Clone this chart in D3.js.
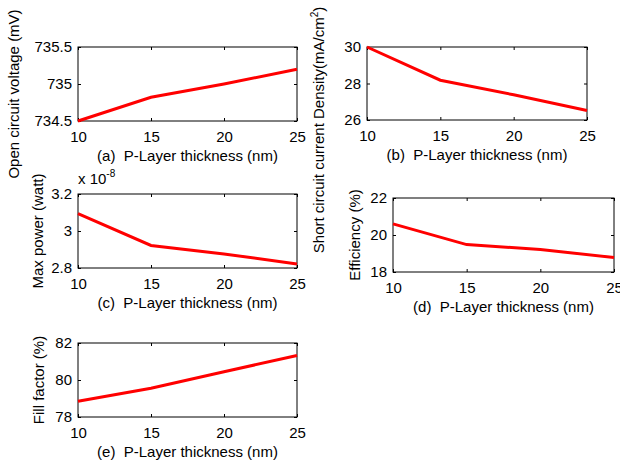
<!DOCTYPE html>
<html>
<head>
<meta charset="utf-8">
<script src="https://cdn.jsdelivr.net/npm/d3@7"></script>
<style>
  html, body { margin: 0; padding: 0; background: #fff; }
  text { font-family: "Liberation Sans", Arial, sans-serif; }
</style>
</head>
<body>
<div id="svg"></div>
<script>
// ------------------------------------------------------
// Size of the page
const width = 620
const height = 466

// ------------------------------------------------------
// Data (x = P-layer thickness in nm)
const thickness = [10, 15, 20, 25]

const openVoltage = [734.5, 734.82, 735.0, 735.2]        // mV
const shortCurrent = [30.0, 28.18, 27.38, 26.52]         // mA/cm2
const maxPower = [3.094e-8, 2.922e-8, 2.876e-8, 2.822e-8] // watt
const efficiency = [20.6, 19.48, 19.22, 18.78]           // %
const fillFactor = [78.85, 79.55, 80.45, 81.32]          // %

const xTicks = [10, 15, 20, 25]
const voltageTicks = [734.5, 735, 735.5]
const currentTicks = [26, 28, 30]
const powerTicks = [2.8e-8, 3e-8, 3.2e-8]
const efficiencyTicks = [18, 20, 22]
const fillTicks = [78, 80, 82]

// ------------------------------------------------------
// One entry per subplot (box in pixels + labels)
const panels = [
	{ values: openVoltage, ticks: voltageTicks, box: [78, 297, 47, 121],
	  xlabel: '(a)  P-Layer thickness (nm)', ylabel: 'Open circuit voltage (mV)', ylx: 19, yly: 94 },
	{ values: shortCurrent, ticks: currentTicks, box: [367, 587, 47, 120],
	  xlabel: '(b)  P-Layer thickness (nm)', ylabel: 'Short circuit current Density(mA/cm', sup: '2', tail: ')', ylx: 324, yly: 130 },
	{ values: maxPower, ticks: powerTicks, box: [78, 297, 194, 268], exp: true,
	  xlabel: '(c)  P-Layer thickness (nm)', ylabel: 'Max power (watt)', ylx: 43, yly: 231 },
	{ values: efficiency, ticks: efficiencyTicks, box: [393, 614, 198, 272],
	  xlabel: '(d)  P-Layer thickness (nm)', ylabel: 'Efficiency (%)', ylx: 360, yly: 235 },
	{ values: fillFactor, ticks: fillTicks, box: [78, 297, 343, 417],
	  xlabel: '(e)  P-Layer thickness (nm)', ylabel: 'Fill factor (%)', ylx: 44, yly: 380 }
]

const svg = d3.select('#svg')
	.append('svg')
	.attr('width', width)
	.attr('height', height)

const fmt = d3.format('~g')

panels.forEach(p => {
	const [x0, x1, y0, y1] = p.box

	const x = d3.scaleLinear().domain([10, 25]).range([x0, x1])
	const y = d3.scaleLinear()
		.domain(d3.extent(p.ticks))
		.range([y1, y0])

	const g = svg.append('g')

	// tick label format (power panel uses x 10^-8)
	const yFormat = p.exp ? d => fmt(+(d * 1e8).toFixed(3)) : d => fmt(d)

	// bottom axis with labels, ticks pointing inward
	g.append('g')
		.attr('transform', `translate(0,${y1})`)
		.call(d3.axisBottom(x).tickValues(xTicks).tickSize(-3).tickSizeOuter(0).tickPadding(10))
		.call(a => a.select('.domain').remove())
	// top axis, ticks only
	g.append('g')
		.attr('transform', `translate(0,${y0})`)
		.call(d3.axisTop(x).tickValues(xTicks).tickSize(-3).tickSizeOuter(0).tickFormat(''))
		.call(a => a.select('.domain').remove())
	// left axis with labels
	g.append('g')
		.attr('transform', `translate(${x0},0)`)
		.call(d3.axisLeft(y).tickValues(p.ticks).tickSize(-3).tickSizeOuter(0).tickPadding(6).tickFormat(yFormat))
		.call(a => a.select('.domain').remove())
	// right axis, ticks only
	g.append('g')
		.attr('transform', `translate(${x1},0)`)
		.call(d3.axisRight(y).tickValues(p.ticks).tickSize(-3).tickSizeOuter(0).tickFormat(''))
		.call(a => a.select('.domain').remove())

	g.selectAll('.tick text')
		.attr('fill', '#000')
		.style('font-size', '15px')
		.style('font-family', '"Liberation Sans", Arial, sans-serif')
	g.selectAll('.tick line').attr('stroke', '#000')

	// the box round the plot
	g.append('rect')
		.attr('x', x0)
		.attr('y', y0)
		.attr('width', x1 - x0)
		.attr('height', y1 - y0)
		.attr('fill', 'none')
		.attr('stroke', '#000')
		.attr('stroke-width', 1)

	// the red data line
	const line = d3.line()
		.x((d, i) => x(thickness[i]))
		.y(d => y(d))
	g.append('path')
		.datum(p.values)
		.attr('d', line)
		.attr('fill', 'none')
		.attr('stroke', '#ff0000')
		.attr('stroke-width', 3)

	// x label
	g.append('text')
		.attr('x', (x0 + x1) / 2)
		.attr('y', y1 + 40)
		.attr('text-anchor', 'middle')
		.style('font-size', '15px')
		.style('white-space', 'pre')
		.text(p.xlabel)

	// y label (rotated)
	const yl = g.append('text')
		.attr('transform', `translate(${p.ylx},${p.yly}) rotate(-90)`)
		.attr('text-anchor', 'middle')
		.style('font-size', '15px')
		.text(p.ylabel)
	if (p.sup) {
		yl.append('tspan').attr('dy', -6).style('font-size', '10px').text(p.sup)
		yl.append('tspan').attr('dy', 6).text(p.tail)
	}

	// exponent label above the axis
	if (p.exp) {
		const t = g.append('text')
			.attr('x', x0)
			.attr('y', y0 - 10)
			.style('font-size', '15px')
			.text('x 10')
		t.append('tspan').attr('dy', -7).style('font-size', '10px').text('-8')
	}
})
</script>
</body>
</html>
